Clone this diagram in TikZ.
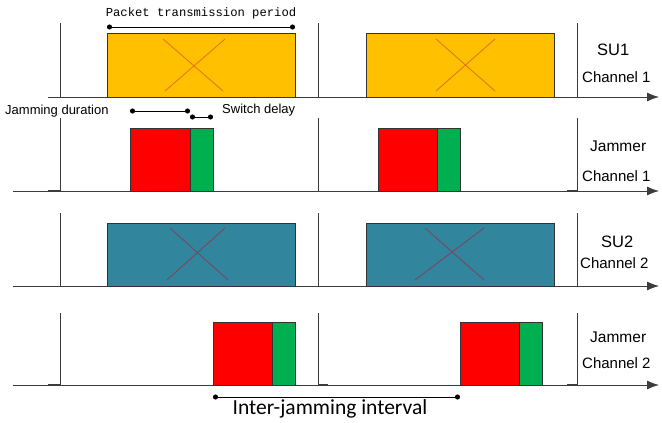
\documentclass[tikz,border=0pt]{standalone}
\usepackage{fontspec}
\setmainfont{Liberation Sans}
\newfontfamily\monof{Liberation Mono}
\newfontfamily\calf{Carlito}
\usetikzlibrary{arrows.meta}
\definecolor{suyellow}{HTML}{FFC000}
\definecolor{suyx}{HTML}{E2711D}
\definecolor{suteal}{HTML}{31859C}
\definecolor{sutx}{HTML}{8A3D5C}
\definecolor{jred}{HTML}{FF0000}
\definecolor{jgreen}{HTML}{00B050}
\definecolor{axgray}{HTML}{3C3C3C}
\tikzset{
  pbox/.style={draw=black!80, line width=0.8pt, inner sep=0pt, outer sep=0pt, anchor=south west},
  ybox/.style={pbox, fill=suyellow, minimum width=188pt, minimum height=64pt},
  tbox/.style={pbox, fill=suteal, minimum width=188pt, minimum height=63pt},
  rbox/.style={pbox, fill=jred, minimum width=60pt, minimum height=63pt},
  gbox/.style={pbox, fill=jgreen, minimum width=23pt, minimum height=63pt},
  axis/.style={draw=axgray, line width=0.8pt, -{Latex[length=12pt,width=9pt]}},
  vline/.style={draw=axgray, line width=0.8pt},
  stub/.style={draw=axgray, line width=1.4pt},
  ycross/.style={draw=suyx, line width=0.8pt},
  tcross/.style={draw=sutx, line width=0.8pt},
  dim/.style={draw=black, line width=0.8pt, {Circle[length=5pt]}-{Circle[length=5pt]}},
  lab/.style={inner sep=0pt, anchor=west, font=\fontsize{13}{15}\selectfont},
  chlab/.style={inner sep=0pt, anchor=west, font=\fontsize{15}{17}\selectfont},
  biglab/.style={inner sep=0pt, anchor=west, font=\fontsize{15.5}{17}\selectfont},
  sulab/.style={inner sep=0pt, anchor=west, font=\fontsize{16.5}{18}\selectfont},
}
\begin{document}
\begin{tikzpicture}[x=1pt,y=-1pt]
\useasboundingbox (0,0) rectangle (662,423);

% ---------------- Row 1: SU1, channel 1 ----------------
\coordinate (a1s) at (48,97); \coordinate (a1e) at (659,97);
\draw[axis] (a1s) -- (a1e);
\foreach \x [count=\i] in {60,318,577}{
  \coordinate (v1t\i) at (\x,23); \coordinate (v1b\i) at (\x,97);
  \draw[vline] (v1t\i) -- (v1b\i);
}
\node[ybox] (p11) at (107,97) {};
\node[ybox] (p12) at (366,97) {};
\draw[ycross] (163,39) -- (223,91);
\draw[ycross] (225,39) -- (165,91);
\draw[ycross] (436,39) -- (495,91);
\draw[ycross] (495,39) -- (436,91);
\node[sulab] (su1) at (597,50) {SU1};
\node[chlab] (ch1a) at (582,77) {Channel 1};

% Packet transmission period
\coordinate (pt1) at (107,27); \coordinate (pt2) at (295,27);
\draw[dim] (pt1) -- (pt2);
\node[inner sep=0pt, font=\monof\fontsize{12.2}{14}\selectfont] (ptl) at (201,13) {Packet transmission period};

% Jamming duration / switch delay
\coordinate (jd1) at (130,111); \coordinate (jd2) at (190,111);
\draw[dim] (jd1) -- (jd2);
\coordinate (sd1) at (190,117); \coordinate (sd2) at (213,117);
\draw[dim] (sd1) -- (sd2);
\node[lab] (jdl) at (5,111) {Jamming duration};
\node[lab] (sdl) at (222,110) {Switch delay};

% ---------------- Row 2: Jammer, channel 1 ----------------
\coordinate (a2s) at (13,191); \coordinate (a2e) at (659,191);
\draw[axis] (a2s) -- (a2e);
\foreach \x [count=\i] in {60,318,577}{
  \coordinate (v2t\i) at (\x,118); \coordinate (v2b\i) at (\x,191);
  \draw[vline] (v2t\i) -- (v2b\i);
}
\draw[stub] (48,191) -- (60,191);
\draw[stub] (567,191) -- (577,191);
\node[rbox] (r21) at (130,191) {};
\node[gbox] (g21) at (190,191) {};
\node[rbox] (r22) at (378,191) {};
\node[gbox] (g22) at (437,191) {};
\node[biglab] (jm1) at (590,146) {Jammer};
\node[chlab] (ch1b) at (582,176) {Channel 1};

% ---------------- Row 3: SU2, channel 2 ----------------
\coordinate (a3s) at (13,286); \coordinate (a3e) at (659,286);
\draw[axis] (a3s) -- (a3e);
\foreach \x [count=\i] in {60,318,577}{
  \coordinate (v3t\i) at (\x,213); \coordinate (v3b\i) at (\x,286);
  \draw[vline] (v3t\i) -- (v3b\i);
}
\node[tbox] (p31) at (107,286) {};
\node[tbox] (p32) at (366,286) {};
\draw[tcross] (170,228) -- (228,280);
\draw[tcross] (225,228) -- (167,280);
\draw[tcross] (425,228) -- (484,280);
\draw[tcross] (484,228) -- (415,280);
\node[sulab] (su2) at (601,242) {SU2};
\node[chlab] (ch2a) at (580,263) {Channel 2};

% ---------------- Row 4: Jammer, channel 2 ----------------
\coordinate (a4s) at (13,385); \coordinate (a4e) at (659,385);
\draw[axis] (a4s) -- (a4e);
\foreach \x [count=\i] in {60,318,577}{
  \coordinate (v4t\i) at (\x,313); \coordinate (v4b\i) at (\x,385);
  \draw[vline] (v4t\i) -- (v4b\i);
}
\draw[stub] (48,385) -- (60,385);
\draw[stub] (318,385) -- (328,385);
\draw[stub] (567,385) -- (577,385);
\node[rbox] (r41) at (213,385) {};
\node[gbox] (g41) at (272,385) {};
\node[rbox] (r42) at (460,385) {};
\node[gbox] (g42) at (519,385) {};
\node[biglab] (jm2) at (590,337) {Jammer};
\node[chlab] (ch2b) at (582,363) {Channel 2};

% Inter-jamming interval
\coordinate (ij1) at (213,397); \coordinate (ij2) at (460,397);
\draw[dim] (ij1) -- (ij2);
\node[inner sep=0pt, font=\calf\fontsize{21.5}{23}\selectfont] (ijl) at (330,409) {Inter-jamming interval};
\end{tikzpicture}
\end{document}
